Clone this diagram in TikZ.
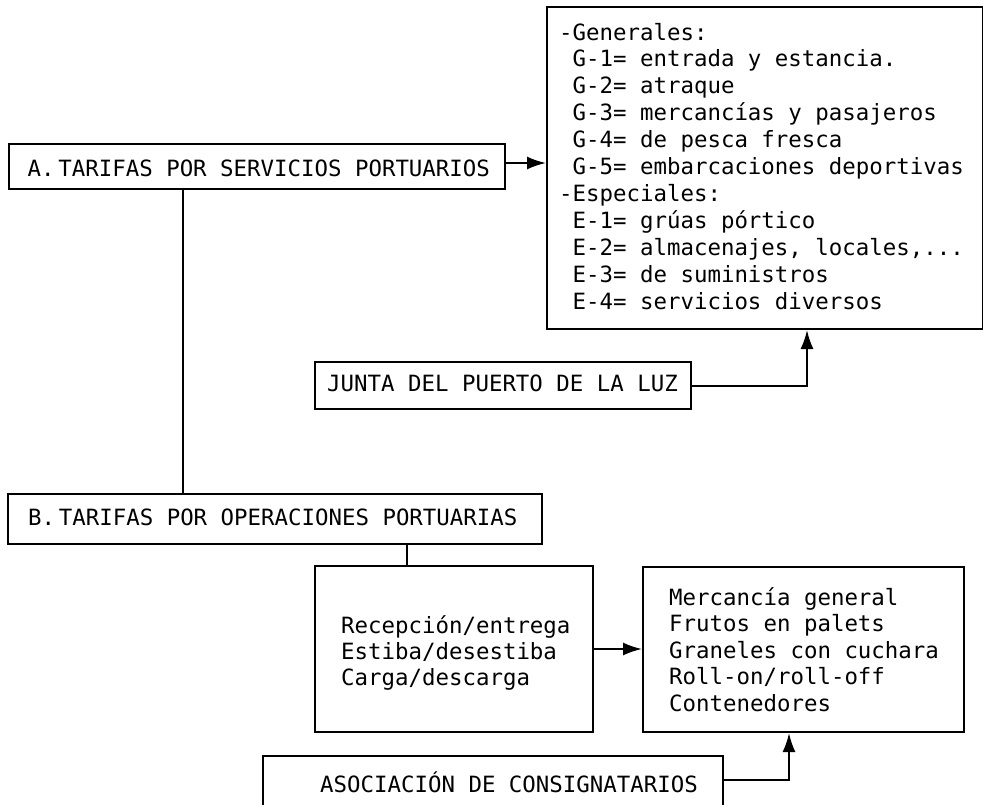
\documentclass[tikz,border=0pt]{standalone}
\usepackage{fontspec}
\setmonofont[WordSpace={1,0,0}]{DejaVu Sans Mono}
\usetikzlibrary{arrows.meta}
\newcommand\ind{\hphantom{-}}
\newcommand\etcdots{...}
\begin{document}
\begin{tikzpicture}[x=1pt,y=-1pt,
  box/.style={draw, line width=2pt, rectangle, inner sep=0pt, anchor=north west},
  txt/.style={anchor=base west, inner sep=0pt, font=\ttfamily\fontsize{22.4pt}{27pt}\selectfont},
  conn/.style={line width=2pt},
  arr/.style={conn, -{Latex[length=19pt,width=13pt]}}]
\useasboundingbox (0,0) rectangle (983,804);
\clip (0,0) rectangle (983,804);

% boxes
\node[box, minimum width=496pt, minimum height=45pt] (A) at (8,143) {};
\node[box, minimum width=436pt, minimum height=322pt] (G) at (546,6) {};
\node[box, minimum width=376pt, minimum height=47pt] (J) at (314,361) {};
\node[box, minimum width=534pt, minimum height=50pt] (B) at (7,493) {};
\node[box, minimum width=278pt, minimum height=166pt] (R) at (314,565) {};
\node[box, minimum width=321pt, minimum height=165pt] (M) at (642,566) {};
\node[box, minimum width=460pt, minimum height=70pt] (S) at (262,755) {};

% single-line labels
\node[txt] (At) at (27.5,176.7) {A.\,TARIFAS POR SERVICIOS PORTUARIOS};
\node[txt] (Jt) at (327,391.7) {JUNTA DEL PUERTO DE LA LUZ};
\node[txt] (Bt) at (28,525.7) {B.\,TARIFAS POR OPERACIONES PORTUARIAS};
\node[txt] (St) at (320,792.3) {ASOCIACIÓN DE CONSIGNATARIOS};

% list of general and special rates
\foreach \t [count=\i from 0] in {
  {-Generales:},
  {\ind G-1= entrada y estancia.},
  {\ind G-2= atraque},
  {\ind G-3= mercancías y pasajeros},
  {\ind G-4= de pesca fresca},
  {\ind G-5= embarcaciones deportivas},
  {-Especiales:},
  {\ind E-1= grúas pórtico},
  {\ind E-2= almacenajes, locales,\etcdots},
  {\ind E-3= de suministros},
  {\ind E-4= servicios diversos}}
  \node[txt] (g\i) at (559,{40+26.9*\i}) {\t};

% operations
\foreach \t [count=\i from 0] in {
  {Recepción/entrega},
  {Estiba/desestiba},
  {Carga/descarga}}
  \node[txt] (r\i) at (341,{633+26*\i}) {\t};

% cargo types
\foreach \t [count=\i from 0] in {
  {Mercancía general},
  {Frutos en palets},
  {Graneles con cuchara},
  {Roll-on/roll-off},
  {Contenedores}}
  \node[txt] (m\i) at (669,{605+26.5*\i}) {\t};

% connectors
\coordinate (ab) at (183,0);
\coordinate (jx) at (807,0);
\coordinate (br) at (407,0);
\coordinate (sx) at (789,780);

\draw[arr] ([yshift=3.5pt]A.east) -- ([yshift=3.5pt]A.east -| G.west);
\draw[conn] (A.south -| ab) -- (B.north -| ab);
\draw[arr] (J.east) -| (jx |- G.south);
\draw[conn] (B.south -| br) -- (R.north -| br);
\draw[arr] (R.east) -- (R.east -| M.west);
\draw[arr] (sx -| S.east) -| (sx |- M.south);
\end{tikzpicture}
\end{document}
